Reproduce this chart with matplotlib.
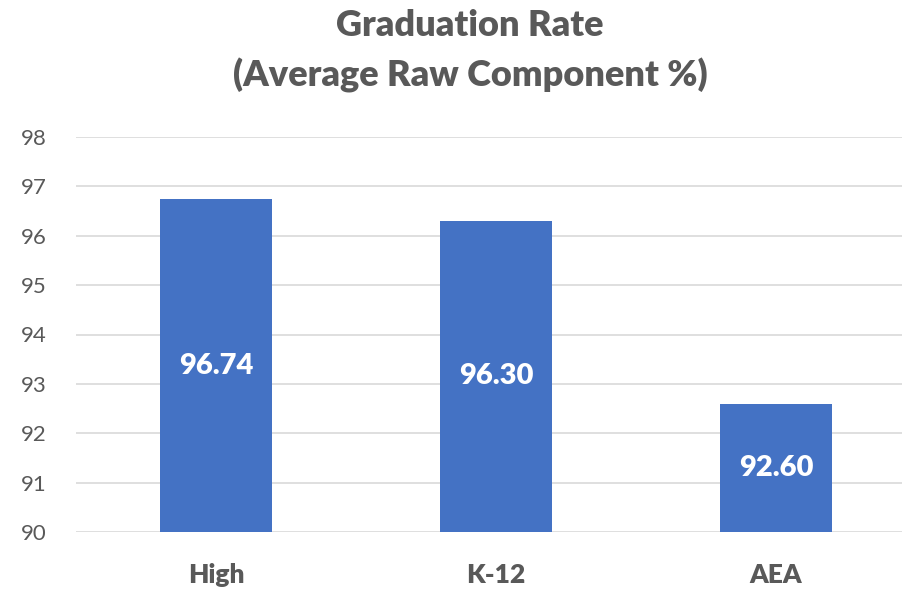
import matplotlib
matplotlib.use("Agg")
import matplotlib.pyplot as plt

categories = ["High", "K-12", "AEA"]
values = [96.74, 96.30, 92.60]
value_labels = ["96.74", "96.30", "92.60"]
y_ticks = [90, 91, 92, 93, 94, 95, 96, 97, 98]

text_color = "#595959"
bar_color = "#4472C4"

plt.rcParams["font.family"] = ["Lato", "DejaVu Sans"]

fig = plt.figure(figsize=(9.02, 5.89), dpi=100)
ax = fig.add_axes([76 / 902, 57 / 589, 840 / 902, 395 / 589])

x = range(len(categories))
bars = ax.bar(x, [v - 90 for v in values], bottom=90, width=0.4, color=bar_color, zorder=3)

for b, v, lab in zip(bars, values, value_labels):
    ax.text(b.get_x() + b.get_width() / 2, 90 + (v - 90) / 2, lab,
            ha="center", va="center", color="white", fontsize=21, fontweight="heavy", zorder=4)

ax.set_ylim(90, 98)
ax.set_xlim(-0.5, 2.5)
ax.set_yticks(y_ticks)
ax.set_xticks(list(x))
ax.set_xticklabels(categories, fontsize=19, fontweight="heavy", color=text_color)
ax.tick_params(axis="y", labelsize=16, labelcolor=text_color, length=0, pad=21)
ax.tick_params(axis="x", length=0, pad=22)
ax.grid(axis="y", color="#d9d9d9", linewidth=1.2, zorder=0)
for s in ax.spines.values():
    s.set_visible(False)

fig.text(470 / 902, 1 - 25 / 589, "Graduation Rate", ha="center", va="center",
         fontsize=26, fontweight="heavy", color=text_color)
fig.text(470 / 902, 1 - 75 / 589, "(Average Raw Component %)", ha="center", va="center",
         fontsize=26, fontweight="heavy", color=text_color)

fig.savefig("out.png", dpi=100)
